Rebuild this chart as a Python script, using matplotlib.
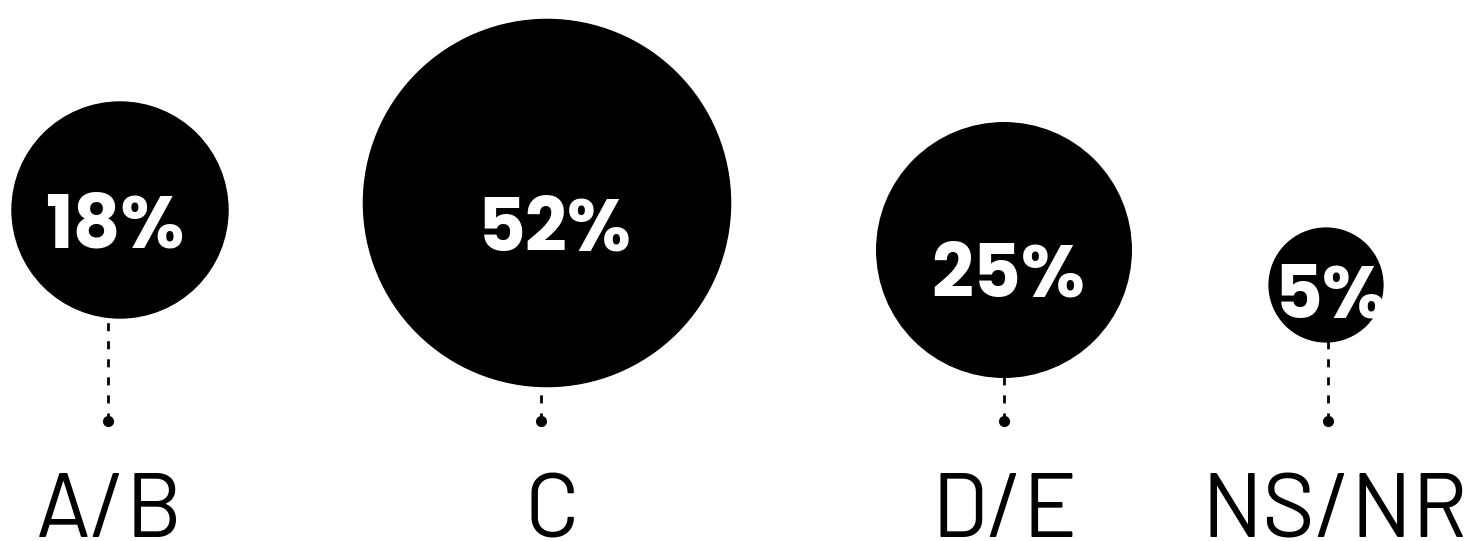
import matplotlib
matplotlib.use("Agg")
import numpy as np
import matplotlib.pyplot as plt
from matplotlib.patches import Circle
from matplotlib import font_manager

# data
categories = ["A/B", "C", "D/E", "NS/NR"]
shares = [18, 52, 25, 5]
pct_labels = ["18%", "52%", "25%", "5%"]

# layout (pixels, top-left origin)
circle_x = [120, 547, 1004, 1326]
circle_y = [210, 203, 250, 285]
stem_x = [108, 541, 1004, 1328]
label_x = [109, 552, 1005, 1335]
pct_x = [115, 555, 1008, 1331]
pct_base = [247, 252, 297, 318]
dot_y = 421
label_base = 537
r_unit = 108 / np.sqrt(18)

installed = {f.name for f in font_manager.fontManager.ttflist}


def pick(names, default):
    for n in names:
        if n in installed:
            return n
    return default


bold_font = pick(["Poppins", "Montserrat", "Inter"], "DejaVu Sans")
thin_font = pick(["Barlow", "Barlow Semi Condensed", "Roboto Condensed", "Roboto"], "DejaVu Sans")

fig = plt.figure(figsize=(14.73, 5.41), dpi=100)
ax = fig.add_axes([0, 0, 1, 1])
ax.set_xlim(0, 1473)
ax.set_ylim(541, 0)
ax.axis("off")

for i in range(len(categories)):
    r = r_unit * np.sqrt(shares[i])
    ax.add_patch(Circle((circle_x[i], circle_y[i]), r, color="black", zorder=2))
    # dashed stem, drawn from the dot up so the dash pattern starts at the dot
    ax.plot([stem_x[i], stem_x[i]], [dot_y, circle_y[i]], color="black", lw=2,
            dashes=(2.9, 3.6), zorder=1)
    ax.plot(stem_x[i], dot_y, "o", color="black", ms=7, zorder=3)
    ax.text(pct_x[i], pct_base[i], pct_labels[i], color="white", fontsize=53,
            fontweight="bold", family=bold_font, ha="center", va="baseline", zorder=4)
    ax.text(label_x[i], label_base, categories[i], color="black", fontsize=65,
            fontweight="normal", family=thin_font, ha="center", va="baseline")

fig.savefig("out.png", dpi=100)
